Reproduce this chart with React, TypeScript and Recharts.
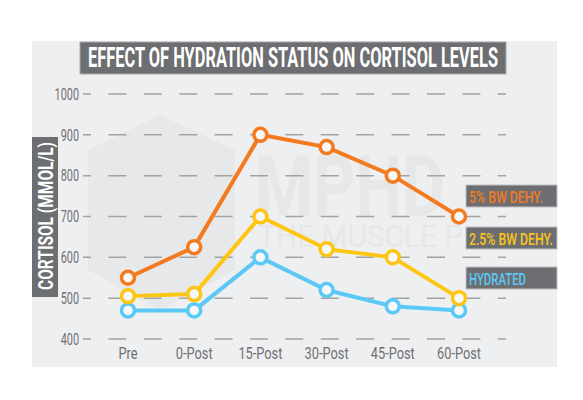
import { LineChart, Line, XAxis, YAxis, CartesianGrid } from 'recharts';

const timepoints = ['Pre', '0-Post', '15-Post', '30-Post', '45-Post', '60-Post'];
const dehy5 = [550, 625, 900, 870, 800, 700];
const dehy25 = [505, 510, 700, 620, 600, 500];
const hydrated = [470, 470, 600, 520, 480, 470];
const yTicks = [400, 500, 600, 700, 800, 900, 1000];

const ORANGE = '#f47a20';
const YELLOW = '#fdc614';
const BLUE = '#5bc9f6';
const BOX = '#6d6e71';
const TICK = '#6f7073';
const FONT = 'Roboto, sans-serif';

const data = timepoints.map((t, i) => ({
  t,
  dehy5: dehy5[i],
  dehy25: dehy25[i],
  hydrated: hydrated[i],
}));

const legendItems = [
  { label: '5% BW DEHY.', color: ORANGE, top: 185, len: 74 },
  { label: '2.5% BW DEHY.', color: YELLOW, top: 227, len: 84 },
  { label: 'HYDRATED', color: BLUE, top: 267, len: 57 },
];

const YTickLabel = ({ x, y, payload }: any) => (
  <text
    transform={`translate(${x},${y}) scale(0.68,1)`}
    textAnchor="end"
    dy="0.36em"
    fill={TICK}
    fontSize={16}
    fontFamily={FONT}
  >
    {payload.value}
  </text>
);

const XTickLabel = ({ x, y, payload }: any) => (
  <text
    transform={`translate(${x},${y}) scale(0.8,1)`}
    textAnchor="middle"
    dy="0.71em"
    fill={TICK}
    fontSize={16}
    fontFamily={FONT}
  >
    {payload.value}
  </text>
);

const dot = (color: string) => ({ r: 6.5, strokeWidth: 3.5, fill: '#f7f7f8', stroke: color });

export default function App() {
  return (
    <div style={{ position: 'absolute', left: 0, top: 0, width: 583, height: 400, background: '#fff' }}>
      {/* panel + faint watermark */}
      <svg width={583} height={400} style={{ position: 'absolute', left: 0, top: 0 }}>
        <rect x={32} y={41} width={525} height={326} fill="#eeeff1" />
        <polygon points="160,115 235,150 235,270 160,310 88,270 88,150" fill="#e7e8ea" />
        <text x={255} y={216} fontSize={86} fontWeight={700} fontFamily={FONT} fill="#e6e7e9" textLength={190} lengthAdjust="spacingAndGlyphs">
          MPHD
        </text>
        <text x={258} y={247} fontSize={32} fontFamily={FONT} fill="#e6e7e9" textLength={205} lengthAdjust="spacingAndGlyphs">
          THE MUSCLE P
        </text>
      </svg>

      <div style={{ position: 'absolute', left: 0, top: 0 }}>
        <LineChart
          width={583}
          height={400}
          data={data}
          margin={{ top: 94, right: 77, left: 33, bottom: 31 }}
        >
          <CartesianGrid
            horizontal
            vertical={false}
            stroke="#a2a3a5"
            strokeWidth={1.5}
            strokeDasharray="18 17.4"
            strokeDashoffset={10}
          />
          <XAxis
            dataKey="t"
            axisLine={false}
            tickLine={false}
            tickSize={6}
            tickMargin={3}
            height={30}
            padding={{ left: 45, right: 47 }}
            interval={0}
            tick={<XTickLabel />}
          />
          <YAxis
            type="number"
            domain={[400, 1000]}
            ticks={yTicks}
            axisLine={false}
            tickLine={false}
            tickSize={4}
            tickMargin={0}
            width={50}
            tick={<YTickLabel />}
          />
          <Line dataKey="hydrated" stroke={BLUE} strokeWidth={4} dot={dot(BLUE)} isAnimationActive={false} />
          <Line dataKey="dehy25" stroke={YELLOW} strokeWidth={4} dot={dot(YELLOW)} isAnimationActive={false} />
          <Line dataKey="dehy5" stroke={ORANGE} strokeWidth={4} dot={dot(ORANGE)} isAnimationActive={false} />
        </LineChart>
      </div>

      {/* title, y-axis label and series labels */}
      <svg width={583} height={400} style={{ position: 'absolute', left: 0, top: 0, pointerEvents: 'none' }}>
        <rect x={80} y={42} width={426} height={32} fill={BOX} stroke="#a9aaac" strokeWidth={1} />
        <text x={88} y={67} fontSize={27} fontWeight={700} fontFamily={FONT} fill="#fff" textLength={410} lengthAdjust="spacingAndGlyphs">
          EFFECT OF HYDRATION STATUS ON CORTISOL LEVELS
        </text>

        <rect x={32} y={137} width={26} height={160} fill={BOX} />
        <text
          transform="translate(53,290) rotate(-90)"
          fontSize={21}
          fontWeight={700}
          fontFamily={FONT}
          fill="#fff"
          textLength={148}
          lengthAdjust="spacingAndGlyphs"
        >
          CORTISOL (MMOL/L)
        </text>

        {legendItems.map((it) => (
          <g key={it.label}>
            <rect x={466} y={it.top} width={91} height={22} fill={BOX} stroke="#bfc0c2" strokeWidth={1} />
            <text
              x={469}
              y={it.top + 18}
              fontSize={17}
              fontWeight={500}
              fontFamily={FONT}
              fill={it.color}
              textLength={it.len}
              lengthAdjust="spacingAndGlyphs"
            >
              {it.label}
            </text>
          </g>
        ))}
      </svg>
    </div>
  );
}
